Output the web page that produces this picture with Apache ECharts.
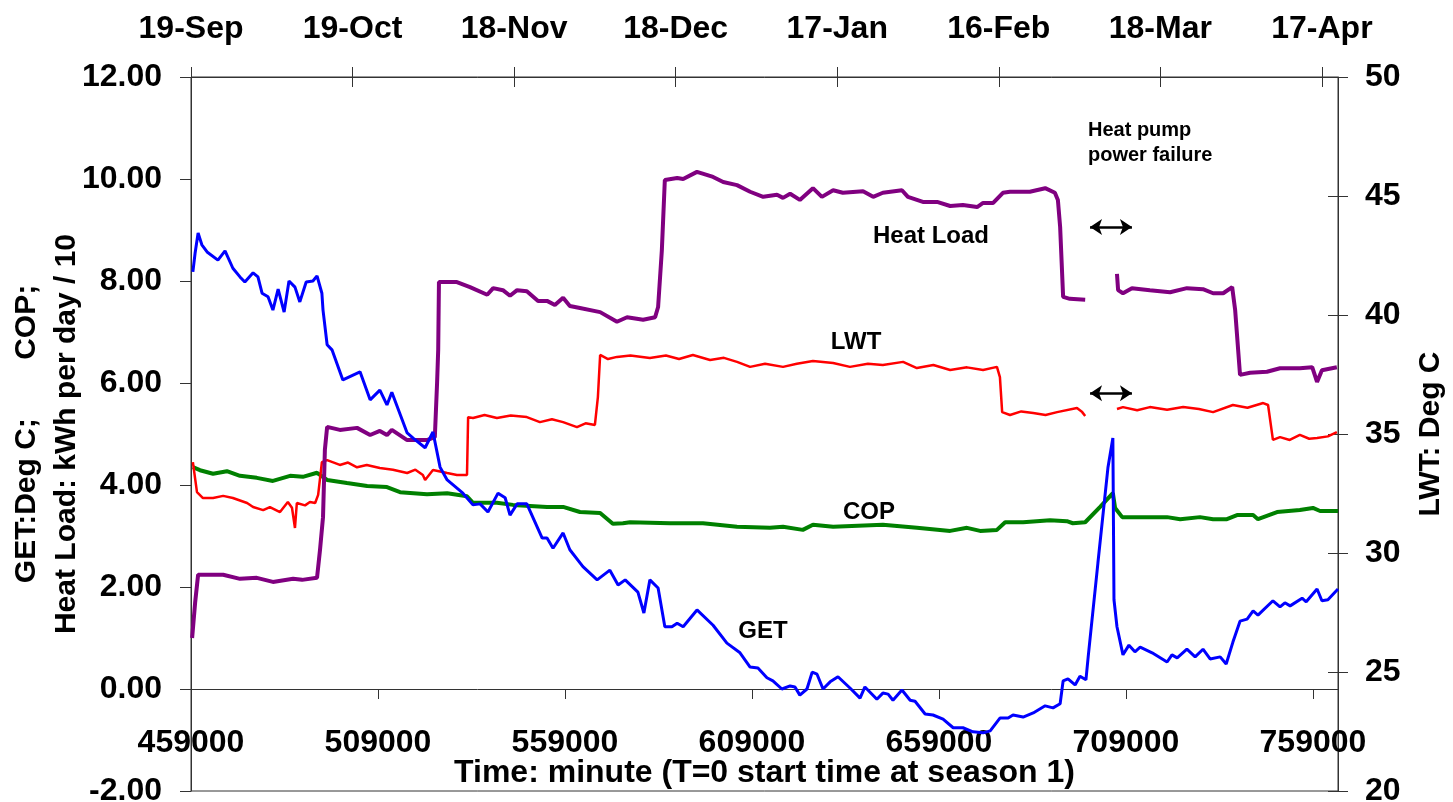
<!DOCTYPE html>
<html>
<head>
<meta charset="utf-8">
<title>Heat pump season 1</title>
<script src="https://cdn.jsdelivr.net/npm/echarts@6/dist/echarts.min.js"></script>
<style>
  html, body { margin: 0; padding: 0; background: #fff; }
  #chart { width: 1453px; height: 802px; }
</style>
</head>
<body>
<div id="chart"></div>
<script>
// time in minutes (T=0 = start of season 1)
const xMin = 459000;
const xMax = 765700;
const bottomTickValues = [459000, 509000, 559000, 609000, 659000, 709000, 759000];
const topTickValues = [459000, 502200, 545400, 588600, 631800, 675000, 718200, 761400];
const topTickLabels = ["19-Sep", "19-Oct", "18-Nov", "18-Dec", "17-Jan", "16-Feb", "18-Mar", "17-Apr"];

// heat load, kWh per day / 10 (left axis); '-' = power failure gap
const heatLoadData = [
  [459300, 1.0], [460100, 1.69], [460900, 2.24], [467600, 2.24], [472100, 2.16],
  [476600, 2.18], [480900, 2.1], [486300, 2.16], [488700, 2.14], [492700, 2.18],
  [493500, 2.73], [494300, 3.37], [494800, 4.69], [495400, 5.14], [498800, 5.08],
  [503400, 5.12], [506900, 4.98], [509500, 5.06], [511400, 4.98], [512700, 5.08],
  [516800, 4.88], [522100, 4.88], [524200, 4.94], [524800, 6.0], [525100, 6.65],
  [525300, 7.98], [530100, 7.98], [533600, 7.88], [538200, 7.73], [539800, 7.86],
  [542400, 7.82], [544300, 7.71], [546200, 7.82], [548800, 7.8], [551800, 7.61],
  [554200, 7.61], [556300, 7.53], [558500, 7.67], [560300, 7.51], [563000, 7.47],
  [568400, 7.39], [572900, 7.2], [575600, 7.29], [579900, 7.24], [583100, 7.29],
  [583900, 7.49], [584900, 8.6], [585700, 9.98], [589000, 10.02], [590600, 10.0],
  [594300, 10.14], [598600, 10.04], [601300, 9.94], [605000, 9.88], [608500, 9.75],
  [612000, 9.65], [615700, 9.69], [617300, 9.63], [619200, 9.71], [621800, 9.59],
  [625300, 9.82], [627700, 9.65], [630700, 9.78], [633300, 9.73], [638700, 9.76],
  [641400, 9.65], [644000, 9.73], [649100, 9.78], [650700, 9.65], [654700, 9.55],
  [658500, 9.55], [662000, 9.47], [665400, 9.49], [669200, 9.45], [670800, 9.53],
  [673500, 9.53], [676100, 9.73], [678000, 9.75], [683300, 9.75], [687400, 9.82],
  [690000, 9.73], [690800, 9.59], [691400, 9.06], [692200, 7.69], [694000, 7.65],
  [698100, 7.63], [700000, "-"],
  [706600, 8.14], [706900, 7.82], [708200, 7.76], [710600, 7.86], [715400, 7.82],
  [720800, 7.78], [725300, 7.86], [729600, 7.84], [732300, 7.76], [735000, 7.76],
  [737400, 7.88], [738200, 7.43], [739500, 6.16], [742200, 6.2], [746700, 6.22],
  [750200, 6.29], [755500, 6.29], [758800, 6.31], [760100, 6.02], [761400, 6.25],
  [765400, 6.31]
];

// leaving water temperature, deg C (right axis)
const lwtData = [
  [459500, 33.82], [460600, 32.56], [462200, 32.31], [464900, 32.31], [467600, 32.4],
  [470200, 32.31], [474000, 32.1], [475600, 31.93], [478300, 31.8], [480100, 31.93],
  [482800, 31.72], [484900, 32.14], [486000, 31.9], [486800, 31.05], [487300, 32.1],
  [489500, 32.0], [490800, 32.14], [492200, 32.1], [493000, 32.44], [494000, 33.82],
  [495400, 33.9], [498800, 33.7], [501000, 33.8], [503400, 33.6], [506000, 33.7],
  [509500, 33.57], [513000, 33.5], [516800, 33.36], [519000, 33.5], [521000, 33.28],
  [521600, 33.07], [523700, 33.49], [527500, 33.36], [530100, 33.28], [532800, 33.28],
  [533100, 35.71], [534400, 35.67], [537500, 35.8], [540800, 35.67], [544500, 35.78],
  [548800, 35.71], [552300, 35.5], [555500, 35.62], [558500, 35.5], [562200, 35.29],
  [564500, 35.45], [567000, 35.38], [567800, 36.55], [568400, 38.32], [570500, 38.15],
  [572900, 38.24], [576500, 38.3], [581700, 38.19], [586000, 38.3], [589500, 38.15],
  [593200, 38.32], [597800, 38.11], [601500, 38.2], [605000, 38.03], [608500, 37.82],
  [612500, 37.95], [617300, 37.82], [621000, 37.95], [625300, 38.07], [630700, 37.98],
  [635200, 37.82], [640000, 37.95], [644000, 37.9], [649400, 38.03], [653100, 37.77],
  [657500, 37.9], [662000, 37.69], [666500, 37.8], [670800, 37.69], [674500, 37.82],
  [675300, 37.39], [675900, 35.92], [678000, 35.8], [681000, 35.95], [684200, 35.88],
  [687500, 35.8], [690600, 35.92], [695900, 36.09], [697300, 35.92], [698100, 35.76],
  [700000, "-"],
  [706600, 36.05], [708200, 36.13], [712000, 36.0], [715400, 36.13], [720000, 36.02],
  [724300, 36.13], [728500, 36.05], [732300, 35.92], [737600, 36.22], [741500, 36.1],
  [745700, 36.3], [747000, 36.22], [748300, 34.75], [750200, 34.87], [752800, 34.75],
  [755500, 34.96], [758000, 34.8], [760100, 34.83], [763000, 34.9], [765400, 35.08]
];

// coefficient of performance (left axis)
const copData = [
  [459500, 4.35], [461400, 4.29], [464900, 4.22], [468600, 4.27], [472100, 4.18],
  [476600, 4.14], [480900, 4.08], [485500, 4.18], [488900, 4.16], [492700, 4.24],
  [495400, 4.1], [500700, 4.04], [506100, 3.98], [511400, 3.96], [514900, 3.86],
  [522100, 3.82], [527500, 3.84], [532800, 3.78], [534400, 3.65], [540800, 3.65],
  [545100, 3.61], [554200, 3.57], [558500, 3.57], [563000, 3.47], [568400, 3.45],
  [571800, 3.24], [574500, 3.25], [576400, 3.27], [587100, 3.25], [595900, 3.25],
  [605000, 3.18], [613800, 3.16], [617300, 3.18], [622600, 3.12], [625300, 3.22],
  [630700, 3.18], [644000, 3.22], [653100, 3.16], [662000, 3.1], [666500, 3.16],
  [670000, 3.1], [674500, 3.12], [676700, 3.27], [681500, 3.27], [688700, 3.31],
  [693200, 3.29], [694800, 3.25], [698100, 3.27], [702100, 3.57], [705500, 3.84],
  [706100, 3.55], [708000, 3.37], [710900, 3.37], [720000, 3.37], [723500, 3.33],
  [728800, 3.37], [732300, 3.33], [736000, 3.33], [738700, 3.41], [743000, 3.41],
  [744300, 3.33], [749400, 3.47], [755500, 3.51], [759000, 3.55], [760900, 3.49],
  [765700, 3.49]
];

// ground exchanger temperature, deg C (left axis)
const getData = [
  [459500, 8.18], [460100, 8.55], [460900, 8.94], [461900, 8.71], [463300, 8.57],
  [466200, 8.41], [468100, 8.59], [470200, 8.25], [472100, 8.08], [473400, 7.98],
  [475600, 8.16], [476900, 8.08], [478000, 7.76], [479600, 7.69], [480900, 7.43],
  [482300, 7.84], [483900, 7.39], [485200, 8.0], [486800, 7.88], [488100, 7.59],
  [489800, 7.98], [491600, 8.0], [492700, 8.1], [494000, 7.76], [494300, 7.43],
  [495400, 6.75], [496700, 6.65], [499600, 6.06], [504200, 6.22], [506900, 5.67],
  [509500, 5.86], [511400, 5.57], [512700, 5.82], [516800, 5.02], [518400, 4.92],
  [521600, 4.73], [523700, 5.04], [525600, 4.35], [527500, 4.1], [531700, 3.84],
  [534400, 3.61], [536300, 3.63], [538400, 3.47], [541100, 3.84], [543000, 3.75],
  [544300, 3.41], [546200, 3.63], [548800, 3.63], [552900, 2.96], [554200, 2.96],
  [555800, 2.76], [558500, 3.06], [560300, 2.73], [563800, 2.4], [567600, 2.14],
  [571000, 2.33], [573200, 2.04], [575100, 2.14], [578500, 1.9], [580100, 1.49],
  [581700, 2.14], [583900, 1.98], [585700, 1.22], [587600, 1.22], [589000, 1.29],
  [590600, 1.22], [594300, 1.55], [598600, 1.25], [602300, 0.9], [605800, 0.71],
  [608500, 0.43], [610600, 0.41], [613000, 0.22], [614600, 0.16], [617000, 0.0],
  [619200, 0.06], [620500, 0.04], [621800, -0.12], [623700, 0.0], [625100, 0.33],
  [626400, 0.29], [628000, 0.0], [629900, 0.14], [632000, 0.24], [635200, 0.02],
  [637900, -0.18], [639200, 0.04], [642400, -0.2], [644000, -0.08], [645400, -0.1],
  [646700, -0.22], [649100, -0.02], [651300, -0.22], [652600, -0.24], [655300, -0.49],
  [657400, -0.51], [660100, -0.59], [662800, -0.76], [665400, -0.76], [668100, -0.84],
  [670800, -0.86], [672700, -0.82], [675300, -0.57], [677500, -0.57], [678800, -0.51],
  [681500, -0.55], [684200, -0.47], [687400, -0.33], [689500, -0.37], [691400, -0.29],
  [692200, 0.16], [693500, 0.2], [695400, 0.08], [696700, 0.25], [698300, 0.18],
  [698900, 0.63], [701500, 2.47], [704200, 4.35], [705500, 4.92], [705800, 1.75],
  [706600, 1.22], [708200, 0.67], [709800, 0.86], [711400, 0.73], [712800, 0.82],
  [716000, 0.71], [720000, 0.53], [721300, 0.67], [722700, 0.61], [725300, 0.78],
  [727500, 0.63], [729600, 0.78], [731500, 0.59], [734200, 0.63], [735800, 0.49],
  [737600, 0.92], [739500, 1.33], [741400, 1.37], [743000, 1.53], [744300, 1.45],
  [748300, 1.73], [750200, 1.61], [751500, 1.69], [752900, 1.63], [756100, 1.78],
  [757200, 1.71], [760100, 1.96], [761400, 1.73], [763000, 1.75], [765700, 1.96]
];

// power failure period marks: [from, to] minutes, at heat-load level and LWT level
const failureSpan = [699400, 710600];
const failureArrowLevels = [9.06, 5.8];

const font = "'Liberation Sans', Arial, sans-serif";
const axisColor = "#333";

const chart = echarts.init(document.getElementById("chart"));

function lineSeries(name, data, color, width, yIdx, z) {
  return {
    name: name,
    type: "line",
    data: data,
    xAxisIndex: 0,
    yAxisIndex: yIdx,
    showSymbol: false,
    symbol: "none",
    connectNulls: false,
    z: z,
    lineStyle: { color: color, width: width },
    itemStyle: { color: color }
  };
}

const heatSeries = lineSeries("Heat Load", heatLoadData, "#800080", 4, 0, 4);
heatSeries.markLine = {
  silent: true,
  symbol: ["arrow", "arrow"],
  symbolSize: [12, 12],
  label: { show: false },
  lineStyle: { color: "#000", width: 2.5, type: "solid" },
  data: failureArrowLevels.map(function (lv) {
    return [{ coord: [failureSpan[0], lv] }, { coord: [failureSpan[1], lv] }];
  })
};

chart.setOption({
  animation: false,
  backgroundColor: "#fff",
  textStyle: { fontFamily: font },
  grid: {
    left: 191,
    right: 115,
    top: 77,
    bottom: 11,
    outerBoundsMode: "none",
    containLabel: false,
    show: true,
    borderColor: axisColor,
    borderWidth: 1,
    backgroundColor: "transparent"
  },
  xAxis: [
    {
      // time axis drawn at the 0.00 level (102 px above the -2.00 bottom)
      type: "value",
      position: "bottom",
      offset: -102,
      min: xMin,
      max: xMax,
      axisLine: { show: true, onZero: false, lineStyle: { color: axisColor, width: 1 } },
      axisTick: { show: true, length: 10, customValues: bottomTickValues, lineStyle: { color: axisColor } },
      axisLabel: {
        customValues: bottomTickValues,
        margin: 38,
        color: "#000",
        fontSize: 32,
        fontWeight: "bold",
        fontFamily: font,
        formatter: function (v) { return String(v); }
      },
      splitLine: { show: false },
      name: "Time: minute (T=0 start time at season 1)",
      nameLocation: "middle",
      nameGap: 68,
      nameMoveOverlap: false,
      nameTextStyle: { color: "#000", fontSize: 32, fontWeight: "bold", fontFamily: font }
    },
    {
      type: "value",
      position: "top",
      min: xMin,
      max: xMax,
      axisLine: { show: true, onZero: false, lineStyle: { color: axisColor, width: 1 } },
      axisTick: { show: true, length: 10, customValues: topTickValues, lineStyle: { color: axisColor } },
      axisLabel: {
        customValues: topTickValues,
        margin: 32,
        color: "#000",
        fontSize: 32,
        fontWeight: "bold",
        fontFamily: font,
        formatter: function (v) {
          return topTickLabels[topTickValues.indexOf(v)] || "";
        }
      },
      splitLine: { show: false }
    },
    {
      type: "value",
      position: "top",
      min: xMin,
      max: xMax,
      axisLine: { show: false, onZero: false },
      axisTick: { show: true, inside: true, length: 10, customValues: topTickValues, lineStyle: { color: axisColor } },
      axisLabel: { show: false },
      splitLine: { show: false }
    }
  ],
  yAxis: [
    {
      type: "value",
      position: "left",
      min: -2,
      max: 12,
      interval: 2,
      axisLine: { show: true, onZero: false, lineStyle: { color: axisColor, width: 1 } },
      axisTick: { show: true, length: 11, lineStyle: { color: axisColor } },
      axisLabel: {
        margin: 29,
        color: "#000",
        fontSize: 32,
        fontWeight: "bold",
        fontFamily: font,
        formatter: function (v) { return v.toFixed(2); }
      },
      splitLine: { show: false },
      name: "GET:Deg C;       COP;\nHeat Load: kWh per day / 10",
      nameLocation: "middle",
      nameGap: 104,
      nameMoveOverlap: false,
      nameTextStyle: { color: "#000", fontSize: 30, fontWeight: "bold", fontFamily: font, lineHeight: 40 }
    },
    {
      type: "value",
      position: "right",
      min: 20,
      max: 50,
      interval: 5,
      axisLine: { show: true, onZero: false, lineStyle: { color: axisColor, width: 1 } },
      axisTick: { show: true, length: 10, lineStyle: { color: axisColor } },
      axisLabel: {
        margin: 27,
        color: "#000",
        fontSize: 32,
        fontWeight: "bold",
        fontFamily: font
      },
      splitLine: { show: false },
      name: "LWT: Deg C",
      nameLocation: "middle",
      nameGap: 78,
      nameMoveOverlap: false,
      nameTextStyle: { color: "#000", fontSize: 30, fontWeight: "bold", fontFamily: font }
    },
    {
      type: "value",
      position: "right",
      min: 20,
      max: 50,
      interval: 5,
      axisLine: { show: false, onZero: false },
      axisTick: { show: true, inside: true, length: 10, lineStyle: { color: axisColor } },
      axisLabel: { show: false },
      splitLine: { show: false }
    }
  ],
  series: [
    lineSeries("COP", copData, "#008000", 4, 0, 2),
    lineSeries("LWT", lwtData, "#ff0000", 2.5, 1, 3),
    heatSeries,
    lineSeries("GET", getData, "#0000ff", 3, 0, 5)
  ],
  graphic: [
    { type: "text", x: 931, y: 236, style: { text: "Heat Load", font: "bold 24px " + font, fill: "#000", align: "center", verticalAlign: "middle" } },
    { type: "text", x: 856, y: 342, style: { text: "LWT", font: "bold 24px " + font, fill: "#000", align: "center", verticalAlign: "middle" } },
    { type: "text", x: 869, y: 512, style: { text: "COP", font: "bold 24px " + font, fill: "#000", align: "center", verticalAlign: "middle" } },
    { type: "text", x: 763, y: 631, style: { text: "GET", font: "bold 24px " + font, fill: "#000", align: "center", verticalAlign: "middle" } },
    { type: "text", x: 1088, y: 118, style: { text: "Heat pump\npower failure", font: "bold 20px " + font, lineHeight: 25, fill: "#000", align: "left", verticalAlign: "top" } }
  ]
});
</script>
</body>
</html>
